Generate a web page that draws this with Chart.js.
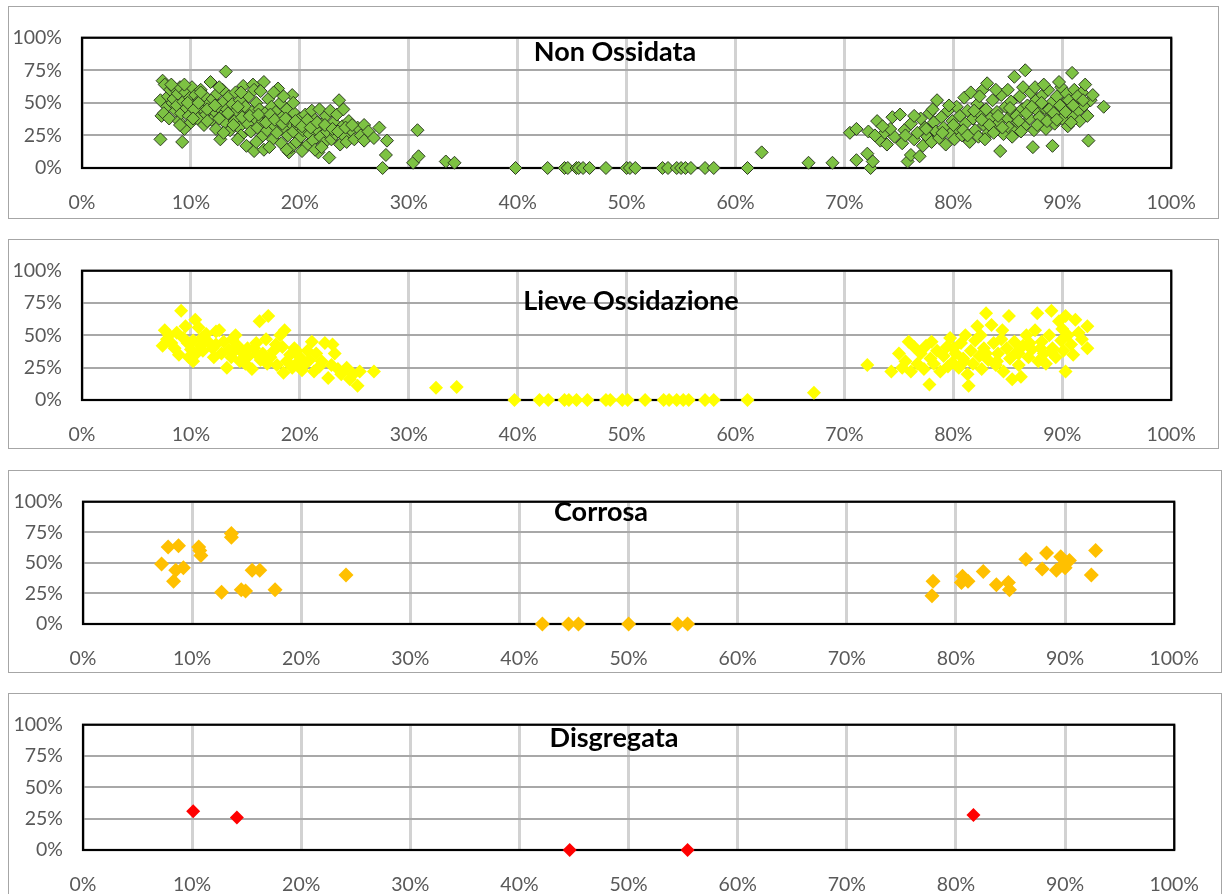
<!DOCTYPE html>
<html>
<head>
<meta charset="utf-8">
<script src="https://cdn.jsdelivr.net/npm/chart.js@4.4.0/dist/chart.umd.min.js"></script>
<style>
  html, body { margin: 0; padding: 0; background: #fff; overflow: hidden; }
  #wrap { position: relative; width: 1222px; height: 894px; overflow: hidden; background: #fff; }
  .panel { position: absolute; }
  canvas { display: block; }
</style>
</head>
<body>
<div id="wrap">
  <div class="panel" id="p1"><canvas id="c1"></canvas></div>
  <div class="panel" id="p2"><canvas id="c2"></canvas></div>
  <div class="panel" id="p3"><canvas id="c3"></canvas></div>
  <div class="panel" id="p4"><canvas id="c4"></canvas></div>
</div>
<script>
// Axis ticks (percent)
const xTicks = [0, 10, 20, 30, 40, 50, 60, 70, 80, 90, 100];
const yTicks = [0, 25, 50, 75, 100];

// Panel titles
const titles = ['Non Ossidata', 'Lieve Ossidazione', 'Corrosa', 'Disgregata'];

// Series: [x %, y %]
const nonOssidata = [
  [7.2,22],[7.4,67],[7.2,52],[7.3,40],[7.6,64],[7.8,47],[7.5,42],[7.9,55],[8.1,60],[8.3,50],
  [8.0,38],[8.5,61],[8.6,44],[8.4,53],[8.8,57],[8.9,36],[8.7,48],[9.2,20],[9.0,62],[9.1,42],
  [9.3,51],[9.4,30],[9.5,58],[9.6,46],[9.8,40],[9.9,54],[10.1,62],[10.0,35],[10.2,48],[10.4,56],
  [10.5,43],[10.6,38],[10.8,52],[10.9,60],[11.0,46],[11.2,33],[11.3,55],[11.4,41],[11.6,49],[11.8,66],
  [11.9,37],[12.0,53],[12.1,44],[12.3,30],[12.4,57],[12.5,47],[12.7,22],[12.8,40],[12.9,60],[13.0,51],
  [13.2,74],[13.1,35],[13.3,45],[13.5,55],[13.6,29],[13.7,41],[13.8,49],[14.0,36],[14.1,58],[14.2,44],
  [14.4,31],[14.5,52],[14.6,25],[14.8,63],[14.9,40],[15.0,47],[15.1,17],[15.2,34],[15.3,55],[15.5,28],
  [15.6,43],[15.7,64],[15.8,13],[15.9,38],[16.0,50],[16.1,31],[16.3,45],[16.5,24],[16.6,36],[16.7,66],
  [16.7,14],[16.8,42],[17.0,29],[17.1,53],[17.2,38],[17.4,47],[17.5,22],[17.6,33],[17.8,43],[18.0,61],
  [17.9,27],[18.1,36],[18.2,50],[18.3,19],[18.5,40],[18.6,31],[18.8,45],[18.9,25],[19.0,12],[19.1,35],
  [19.3,56],[19.2,16],[19.4,28],[19.5,42],[19.7,20],[19.8,33],[20.0,38],[20.1,24],[20.3,29],[20.5,41],
  [20.6,17],[20.8,34],[20.9,26],[21.1,44],[21.2,21],[21.4,37],[21.5,30],[21.7,12],[21.8,45],[21.9,24],
  [22.1,34],[22.2,19],[22.4,40],[22.5,28],[22.7,8],[22.8,44],[22.9,22],[23.1,35],[23.3,26],[23.4,41],
  [23.6,52],[23.7,18],[23.9,32],[24.0,45],[24.1,24],[24.3,20],[24.5,36],[24.7,29],[25.0,22],[25.3,31],
  [25.6,25],[25.9,33],[25.9,21],[26.3,28],[26.8,23],[27.3,31],[27.6,0],[27.9,10],[28.0,21],
  [9.7,50],[10.3,45],[10.7,50],[11.5,45],[12.2,48],[12.6,38],[13.4,42],[13.9,33],[14.3,47],[14.7,39],
  [15.4,40],[16.2,41],[16.9,35],[17.3,41],[17.7,37],[18.4,34],[18.7,38],[19.6,36],[20.2,32],[20.7,37],
  [21.0,31],[21.6,35],[22.3,33],[23.0,30],[23.5,28],[24.2,31],[24.8,33],
  [8.2,64],[9.4,64],[10.9,58],[12.6,62],[14.6,58],[15.8,60],[16.4,59],[17.6,58],[18.5,55],[19.4,50],
  [9.0,33],[10.2,38],[11.5,36],[13.0,27],[14.3,22],[16.0,20],[17.2,16],[18.8,14],[20.2,13],[21.4,14],[22.0,16],
  [30.4,4],[30.8,29],[30.9,9],[33.4,5],[34.2,4],
  [39.8,0],[42.75,0],[44.3,0],[44.6,0],[45.4,0],[45.6,0],[46.0,0],[46.6,0],[48.1,0],[50.0,0],
  [50.3,0],[50.8,0],[53.3,0],[53.8,0],[54.6,0],[55.0,0],[55.4,0],[55.9,0],[57.2,0],[58.0,0],[61.1,0],
  [62.4,12],[66.7,4],[68.9,4],
  [70.5,27],[71.1,30],[71.1,6],[72.2,28],[72.1,11],[72.4,0],[72.6,5],[73.0,36],[73.3,21],[73.7,27],
  [73.9,18],[74.4,39],[74.6,24],[75.1,41],[75.3,19],[75.5,29],[75.8,5],[76.1,10],[76.1,34],[76.4,22],
  [76.7,27],[76.9,9],[77.0,38],[77.2,17],[77.4,31],[77.6,24],[77.8,42],[78.0,20],[78.2,35],[78.5,52],
  [78.4,28],[78.7,23],[78.9,39],[79.1,31],[79.3,18],[79.5,44],[79.7,26],[79.9,36],[80.1,22],[80.3,47],
  [80.4,30],[80.6,40],[80.8,25],[81.0,54],[81.1,34],[81.3,44],[81.5,20],[81.6,58],[81.8,38],[82.0,29],
  [82.2,49],[82.3,24],[82.5,41],[82.7,60],[82.8,33],[83.0,45],[83.1,65],[83.2,27],[83.4,38],[83.6,52],
  [83.8,30],[84.0,43],[84.3,13],[84.2,35],[84.4,56],[84.6,26],[84.8,47],[85.0,38],[85.1,31],[85.3,51],
  [85.5,42],[85.6,70],[85.7,28],[85.9,35],[86.1,55],[86.3,45],[86.6,75],[86.5,32],[86.8,48],[87.0,38],
  [87.1,58],[87.3,16],[87.4,29],[87.6,52],[87.8,43],[88.0,35],[88.2,56],[88.4,46],[88.5,30],[88.7,60],
  [88.9,40],[89.1,17],[89.0,50],[89.3,34],[89.5,55],[89.7,44],[89.9,62],[90.0,38],[90.2,50],[90.4,57],
  [90.5,32],[90.7,46],[90.9,73],[90.9,40],[91.1,60],[91.3,53],[91.5,44],[91.6,36],[91.8,58],[92.0,48],
  [92.1,64],[92.3,40],[92.4,21],[92.6,52],[92.8,56],[93.8,47],
  [79.0,27],[80.0,33],[80.9,29],[81.9,44],[82.6,37],[83.3,33],[84.1,40],[84.5,31],[85.2,46],[85.8,40],
  [86.0,36],[86.7,42],[87.2,47],[87.9,39],[88.1,50],[88.8,45],[89.2,42],[89.8,48],[90.3,43],[90.6,52],
  [91.0,48],[91.4,55],[91.9,52],[81.3,25],[82.9,22],[83.7,27],[85.4,24],[86.2,28],[87.7,33],[88.6,36],
  [89.5,37],[90.8,35],[78.1,45],[79.6,48],[82.4,55],[83.9,60],[85.0,60],[86.4,62],[87.5,62],[88.3,64],
  [89.7,66],[77.5,30],[76.4,40],[75.6,25],[74.2,30],[73.5,32],[72.8,25]
];

const lieveOssidazione = [
  [7.4,42],[7.6,54],[7.8,47],[8.0,50],[8.2,44],[8.5,40],[8.9,35],[9.1,69],[9.3,48],[9.5,57],
  [9.8,33],[10.0,39],[10.2,46],[10.4,62],[10.5,36],[10.7,56],[10.9,42],[11.1,38],[11.4,51],[11.7,44],
  [12.0,40],[12.3,53],[12.6,54],[12.8,36],[13.0,45],[13.3,25],[13.5,39],[13.7,33],[14.1,50],[14.3,42],
  [14.5,30],[14.8,36],[15.0,28],[15.3,34],[15.6,24],[15.8,40],[16.0,44],[16.3,61],[16.4,31],[16.6,36],
  [16.9,47],[17.1,65],[17.0,28],[17.3,33],[17.6,38],[17.9,27],[18.2,50],[18.4,41],[18.5,21],[18.6,54],
  [18.8,30],[19.1,35],[19.3,25],[19.5,40],[19.8,29],[20.0,33],[20.2,23],[20.5,28],[20.9,31],[21.1,45],
  [21.3,22],[21.5,36],[21.8,26],[22.0,30],[22.3,44],[22.6,17],[22.9,27],[23.0,43],[23.2,36],[23.5,24],
  [23.8,20],[24.3,25],[24.6,16],[24.9,20],[25.3,11],[25.5,22],[26.8,22],[12.3,43],[11.0,48],[9.7,44],
  [15.2,40],[17.8,43],[19.7,38],[14.0,38],[16.1,35],[13.8,47],[8.7,52],[10.2,30],[12.1,33],[20.7,38],
  [32.5,9.5],[34.4,10],
  [39.7,0],[42.0,0],[42.8,0],[44.3,0],[44.7,0],[45.4,0],[46.4,0],[48.1,0],[48.5,0],[49.6,0],
  [50.1,0],[51.7,0],[53.4,0],[53.9,0],[54.6,0],[55.2,0],[55.7,0],[57.2,0],[58.0,0],[61.1,0],
  [67.2,5.7],
  [72.1,27],[74.3,22],[75.0,36],[75.3,25],[75.6,30],[75.9,45],[76.1,22],[76.4,41],[76.7,28],[77.0,36],
  [77.3,24],[77.5,42],[77.8,12],[77.9,32],[78.2,28],[78.5,38],[78.8,22],[79.1,34],[79.4,41],[79.7,48],
  [79.9,29],[80.2,36],[80.5,25],[80.7,44],[80.9,32],[81.1,50],[81.3,20],[81.4,11],[81.6,38],[81.8,28],
  [82.0,46],[82.2,57],[82.4,34],[82.6,24],[82.8,40],[83.0,67],[83.2,31],[83.5,58],[83.7,44],[83.9,27],
  [84.1,36],[84.4,47],[84.6,22],[84.9,40],[85.1,65],[85.2,32],[85.4,16],[85.6,45],[85.8,37],[86.0,27],
  [86.2,18],[86.4,42],[86.7,50],[86.9,33],[87.2,39],[87.5,54],[87.7,67],[87.8,30],[88.1,45],[88.3,36],
  [88.5,28],[88.8,50],[89.0,69],[89.1,40],[89.4,33],[89.7,61],[89.9,46],[90.1,38],[90.3,65],[90.3,22],
  [90.5,50],[90.8,43],[91.2,62],[91.5,52],[91.8,47],[92.3,57],[92.3,40],[80.0,40],[81.0,30],[83.0,36],
  [84.0,30],[86.0,36],[87.0,44],[88.0,40],[89.0,37],[90.0,55],[91.0,35],[78.0,45],[79.5,26],[82.5,50],
  [84.5,54]
];

const corrosa = [
  [7.2,49],[7.8,63],[8.75,64],[8.5,44],[8.3,35],[9.2,46],[10.6,63],[10.7,60],[10.8,56],[12.7,26],
  [13.6,74],[13.6,71],[14.5,28],[14.9,27],[15.5,44],[16.2,44],[17.6,28],[24.1,40],
  [42.1,0],[44.5,0],[45.4,0],[50.0,0],[54.5,0],[55.4,0],
  [77.9,35],[77.8,23],[80.6,39],[80.5,34],[81.1,35],[82.5,43],[83.7,32],[84.8,34],[84.9,28],[86.4,53],
  [88.3,58],[87.9,45],[89.2,44],[89.6,55],[89.9,49],[90.0,46],[90.4,52],[92.4,40],[92.8,60]
];

const disgregata = [
  [10.1,31],[14.1,26],[44.6,0],[55.4,0],[81.6,28]
];

// Panel geometry (canvas box and plot area inside it)
const panels = [
  { id: 'c1', box: 'p1', left: 8, top: 6,   w: 1211, h: 213, plot: { l: 74, r: 1171, t: 13, b: 162 },
    title: { x: 607, y: 55 }, data: nonOssidata, fill: '#7DC243', border: '#2E3B22', bw: 1, r: 6.5 },
  { id: 'c2', box: 'p2', left: 8, top: 239, w: 1211, h: 210, plot: { l: 74, r: 1172, t: 14, b: 161 },
    title: { x: 623, y: 71 }, data: lieveOssidazione, fill: '#FFFF00', border: '#FFFF00', bw: 0, r: 7 },
  { id: 'c3', box: 'p3', left: 8, top: 470, w: 1214, h: 203, plot: { l: 75, r: 1175, t: 13, b: 154 },
    title: { x: 593, y: 51 }, data: corrosa, fill: '#FFC000', border: '#FFC000', bw: 0, r: 7.5 },
  { id: 'c4', box: 'p4', left: 8, top: 693, w: 1214, h: 215, plot: { l: 75, r: 1177, t: 14, b: 157 },
    title: { x: 606, y: 54 }, data: disgregata, fill: '#FF0000', border: '#FF0000', bw: 0, r: 7 }
];

const FONT = 'Lato, "Open Sans", "DejaVu Sans", sans-serif';
const TICK_COLOR = '#595959';
const X_GRID_COLOR = '#d2d2d2';
const Y_GRID_COLOR = '#a8a8a8';

// Outer frame, black plot frame and the overlaid title (all under the markers)
const framePlugin = {
  id: 'frame',
  beforeDraw(chart) {
    const ctx = chart.ctx;
    ctx.save();
    ctx.strokeStyle = '#a6a6a6';
    ctx.lineWidth = 1;
    ctx.strokeRect(0.5, 0.5, chart.width - 1, chart.height - 1);
    ctx.restore();
  },
  beforeDatasetsDraw(chart, args, opts) {
    const ctx = chart.ctx;
    const a = chart.chartArea;
    ctx.save();
    ctx.strokeStyle = '#000';
    ctx.lineWidth = 2.2;
    ctx.strokeRect(a.left, a.top, a.right - a.left, a.bottom - a.top);
    ctx.fillStyle = '#000';
    ctx.font = 'bold 27px ' + FONT;
    ctx.textAlign = 'center';
    ctx.textBaseline = 'alphabetic';
    ctx.fillText(opts.text, opts.x, opts.y);
    ctx.restore();
  }
};

panels.forEach((p, i) => {
  const box = document.getElementById(p.box);
  box.style.left = p.left + 'px';
  box.style.top = p.top + 'px';
  box.style.width = p.w + 'px';
  box.style.height = p.h + 'px';
  const cv = document.getElementById(p.id);
  cv.width = p.w;
  cv.height = p.h;
  cv.style.width = p.w + 'px';
  cv.style.height = p.h + 'px';

  new Chart(cv, {
    type: 'scatter',
    data: {
      datasets: [{
        label: titles[i],
        data: p.data.map(([x, y]) => ({ x, y })),
        pointStyle: 'rectRot',
        pointRadius: p.r,
        pointHoverRadius: p.r,
        backgroundColor: p.fill,
        borderColor: p.border,
        pointBorderWidth: p.bw,
        clip: false
      }]
    },
    options: {
      responsive: false,
      animation: false,
      devicePixelRatio: 1,
      events: [],
      layout: { padding: { left: 0, top: p.plot.t, right: p.w - p.plot.r, bottom: 0 } },
      plugins: {
        legend: { display: false },
        tooltip: { enabled: false },
        title: { display: false },
        frame: { text: titles[i], x: p.title.x, y: p.title.y }
      },
      scales: {
        x: {
          type: 'linear',
          min: xTicks[0],
          max: xTicks[xTicks.length - 1],
          afterBuildTicks(scale) { scale.ticks = xTicks.map(v => ({ value: v })); },
          afterFit(scale) { scale.height = p.h - p.plot.b; },
          ticks: {
            padding: 23,
            color: TICK_COLOR,
            font: { family: FONT, size: 19.5 },
            maxRotation: 0,
            autoSkip: false,
            callback: v => v + '%'
          },
          grid: { display: true, color: X_GRID_COLOR, lineWidth: 3, drawTicks: false, z: 0 },
          border: { display: false }
        },
        y: {
          type: 'linear',
          min: yTicks[0],
          max: yTicks[yTicks.length - 1],
          afterBuildTicks(scale) { scale.ticks = yTicks.map(v => ({ value: v })); },
          afterFit(scale) { scale.width = p.plot.l; },
          ticks: {
            padding: 20,
            color: TICK_COLOR,
            font: { family: FONT, size: 19.5 },
            autoSkip: false,
            callback: v => v + '%'
          },
          grid: { display: true, color: Y_GRID_COLOR, lineWidth: 2, drawTicks: false, z: 0 },
          border: { display: false }
        }
      }
    },
    plugins: [framePlugin]
  });
});
</script>
</body>
</html>
